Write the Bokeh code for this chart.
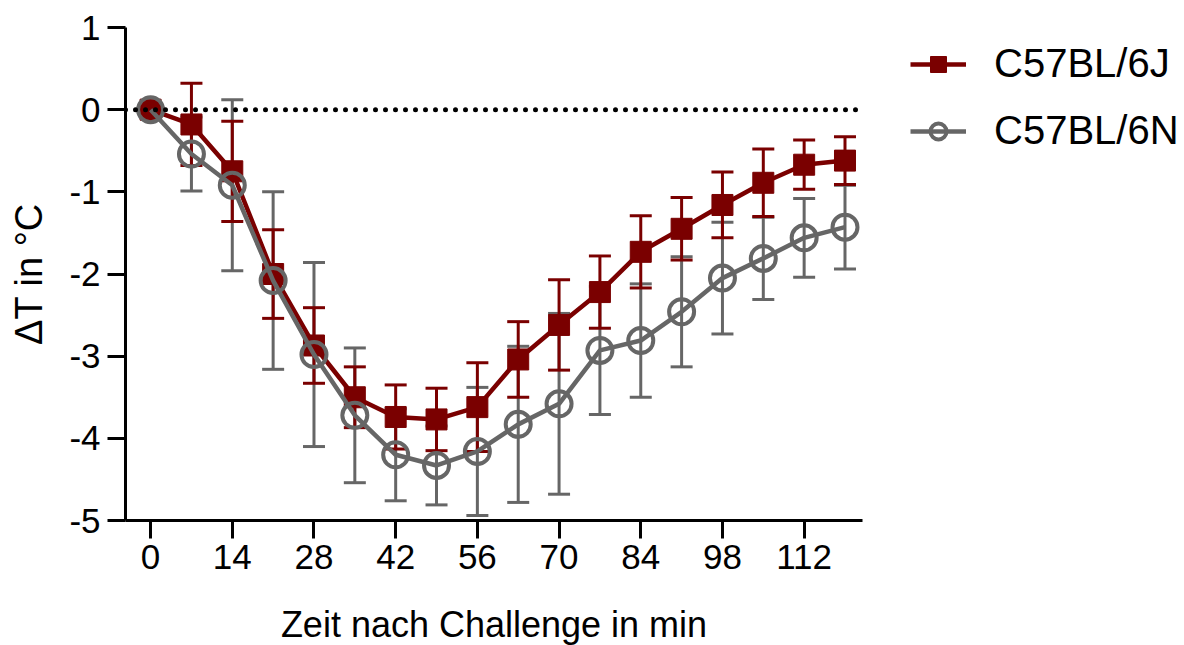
from bokeh.plotting import figure
from bokeh.models import (ColumnDataSource, Whisker, TeeHead, Legend, LegendItem, FixedTicker,
                          Span, NumeralTickFormatter)
from bokeh.embed import file_html
from bokeh.resources import INLINE

# ---- data ----
time_min = [0, 7, 14, 21, 28, 35, 42, 49, 56, 63, 70, 77, 84, 91, 98, 105, 112, 119]
j_mean = [0, -0.18, -0.75, -2.0, -2.87, -3.5, -3.74, -3.77, -3.62, -3.04, -2.62, -2.22,
          -1.73, -1.45, -1.16, -0.89, -0.67, -0.62]
j_sd = [0, 0.5, 0.61, 0.54, 0.46, 0.37, 0.39, 0.38, 0.54, 0.46, 0.55, 0.44,
        0.44, 0.38, 0.40, 0.41, 0.30, 0.29]
n_mean = [0, -0.54, -0.92, -2.08, -2.98, -3.72, -4.2, -4.33, -4.16, -3.83, -3.58, -2.93,
          -2.81, -2.46, -2.05, -1.81, -1.56, -1.43]
n_sd = [0, 0.45, 1.04, 1.08, 1.12, 0.82, 0.56, 0.48, 0.78, 0.95, 1.1, 0.78,
        0.69, 0.67, 0.68, 0.5, 0.48, 0.51]
x_ticks = [0, 14, 28, 42, 56, 70, 84, 98, 112]
y_ticks = [1, 0, -1, -2, -3, -4, -5]
series_labels = ["C57BL/6J", "C57BL/6N"]
x_label = "Zeit nach Challenge in min"
y_label = "ΔT in °C"

RED = "#7a0000"
GRAY = "#666666"
FONT = "Liberation Sans"

src_j = ColumnDataSource(dict(x=time_min, y=j_mean,
                              lo=[m - s for m, s in zip(j_mean, j_sd)],
                              hi=[m + s for m, s in zip(j_mean, j_sd)]))
src_n = ColumnDataSource(dict(x=time_min, y=n_mean,
                              lo=[m - s for m, s in zip(n_mean, n_sd)],
                              hi=[m + s for m, s in zip(n_mean, n_sd)]))

p = figure(frame_width=737, frame_height=493, x_range=(-4.3, 122), y_range=(-5, 1),
           output_backend="svg", toolbar_location=None,
           min_border_left=125, min_border_top=27, min_border_bottom=125,
           min_border_right=322)
p.outline_line_color = None
p.grid.visible = False
p.background_fill_color = "white"
p.border_fill_color = "white"

# zero reference line
p.add_layout(Span(location=0, dimension="width", line_color="black", line_width=5,
                  line_dash="0 10", line_cap="round"))

def add_err(src, color):
    w = Whisker(base="x", lower="lo", upper="hi", source=src,
                line_color=color, line_width=3,
                upper_head=TeeHead(size=22, line_color=color, line_width=3),
                lower_head=TeeHead(size=22, line_color=color, line_width=3))
    p.add_layout(w)

add_err(src_n, GRAY)
add_err(src_j, RED)

lj = p.line("x", "y", source=src_j, line_color=RED, line_width=4.5)
mj = p.scatter("x", "y", source=src_j, marker="square", size=21, fill_color=RED, line_color=RED)
ln = p.line("x", "y", source=src_n, line_color=GRAY, line_width=4.5)
mn = p.scatter("x", "y", source=src_n, marker="circle", size=25, fill_color="white",
               fill_alpha=0.0, line_color=GRAY, line_width=4)

# axes
for ax in (p.xaxis[0], p.yaxis[0]):
    ax.axis_line_width = 3
    ax.major_tick_line_width = 3
    ax.major_tick_out = 18
    ax.major_tick_in = 0
    ax.minor_tick_line_color = None
    ax.major_label_text_font = FONT
    ax.major_label_text_font_size = "35px"
    ax.major_label_text_color = "black"
    ax.axis_label_text_font = FONT
    ax.axis_label_text_font_size = "36px"
    ax.axis_label_text_font_style = "normal"
    ax.axis_label_text_color = "black"

p.xaxis.ticker = FixedTicker(ticks=x_ticks)
p.yaxis.ticker = FixedTicker(ticks=y_ticks)
p.yaxis.formatter = NumeralTickFormatter(format="0")
p.xaxis.axis_label = x_label
p.yaxis.axis_label = y_label
p.yaxis.axis_label_text_font_size = "38px"
p.xaxis.major_label_standoff = 6
p.xaxis.axis_label_standoff = 32
p.yaxis.major_label_standoff = 7
p.yaxis.axis_label_standoff = 16

legend = Legend(items=[LegendItem(label=series_labels[0], renderers=[lj, mj]),
                       LegendItem(label=series_labels[1], renderers=[ln, mn])],
                location=(48, 367), orientation="vertical")
legend.label_text_font = FONT
legend.label_text_font_size = "40px"
legend.label_text_color = "black"
legend.glyph_width = 56
legend.glyph_height = 40
legend.label_height = 40
legend.spacing = 22
legend.label_standoff = 28
legend.border_line_color = None
legend.background_fill_alpha = 0
legend.margin = 0
legend.padding = 0
p.add_layout(legend, "right")

open("out.html", "w").write(file_html(p, INLINE))
